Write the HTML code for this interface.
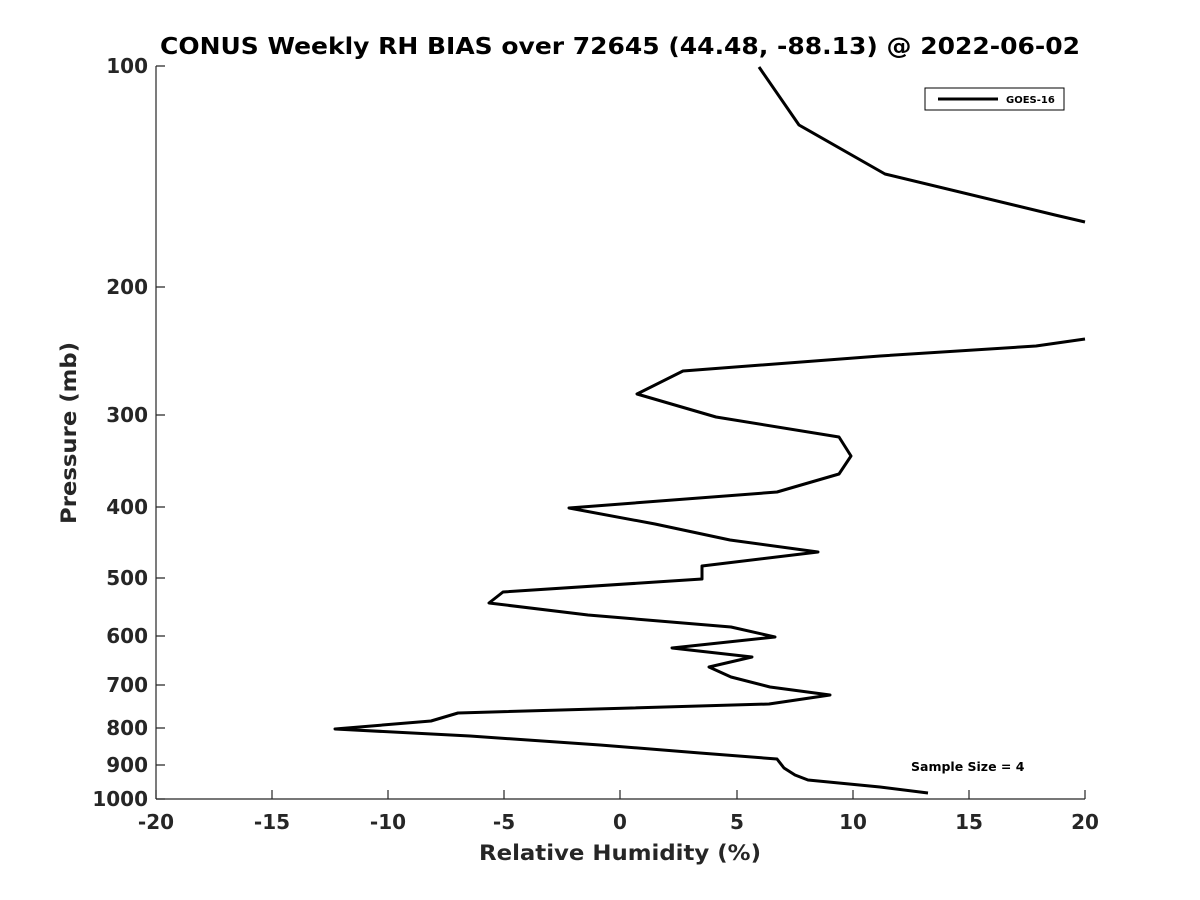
<!DOCTYPE html>
<html><head><meta charset="utf-8"><style>
html,body{margin:0;padding:0;background:#fff;}
svg{display:block;font-family:"DejaVu Sans","Liberation Sans",sans-serif;}
</style></head><body>
<svg width="1200" height="900" viewBox="0 0 1200 900" xmlns="http://www.w3.org/2000/svg">
<rect width="1200" height="900" fill="#fff"/>
<text x="620" y="54" text-anchor="middle" font-size="23" font-weight="bold" fill="#000" textLength="920" lengthAdjust="spacingAndGlyphs">CONUS Weekly RH BIAS over 72645 (44.48, -88.13) @ 2022-06-02</text>
<g stroke="#262626" stroke-width="1.2" fill="none">
<line x1="156" y1="66" x2="156" y2="799"/>
<line x1="156" y1="799" x2="1085" y2="799"/>
<path d="M156 66h9M156 287h9M156 415h9M156 507h9M156 578h9M156 636h9M156 685h9M156 728h9M156 765h9M156 799h9"/>
<path d="M156 799v-9M272 799v-9M388 799v-9M504 799v-9M620 799v-9M737 799v-9M853 799v-9M969 799v-9M1085 799v-9"/>
</g>
<g font-size="20" font-weight="bold" fill="#262626" text-anchor="end">
<text x="148" y="73">100</text><text x="148" y="294">200</text><text x="148" y="422">300</text>
<text x="148" y="514">400</text><text x="148" y="585">500</text><text x="148" y="643">600</text>
<text x="148" y="692">700</text><text x="148" y="735">800</text><text x="148" y="772">900</text>
<text x="148" y="806">1000</text>
</g>
<g font-size="20" font-weight="bold" fill="#262626" text-anchor="middle">
<text x="156" y="829">-20</text><text x="272" y="829">-15</text><text x="388" y="829">-10</text>
<text x="504" y="829">-5</text><text x="620" y="829">0</text><text x="737" y="829">5</text>
<text x="853" y="829">10</text><text x="969" y="829">15</text><text x="1085" y="829">20</text>
</g>
<text x="620" y="860" text-anchor="middle" font-size="21" font-weight="bold" fill="#262626" textLength="282" lengthAdjust="spacingAndGlyphs">Relative Humidity (%)</text>
<text transform="translate(76,433) rotate(-90)" text-anchor="middle" font-size="21" font-weight="bold" fill="#262626" textLength="182" lengthAdjust="spacingAndGlyphs">Pressure (mb)</text>
<g stroke="#000" stroke-width="3" fill="none" stroke-linejoin="round">
<polyline points="759,67 799,125 885,174 1055,215 1085,222"/>
<polyline points="1085,339 1036,346 880,356 683,371 637,394 716,417 839,437 851,456 839,474 777,492 569,508 655,524 730,540 818,552 702,566 702,579 503,592 489,603 588,615 731,627 775,637 672,648 752,657 709,667 731,677 770,687 830,695 769,704 458,713 431,721 335,729 470,736 600,745 700,753 777,759 784,768 795,775 808,780 880,787 928,793"/>
</g>
<rect x="925" y="88" width="139" height="22" fill="#fff" stroke="#000" stroke-width="1"/>
<line x1="938" y1="99" x2="998" y2="99" stroke="#000" stroke-width="3"/>
<text x="1006" y="103" font-size="10" font-weight="bold" fill="#000">GOES-16</text>
<text x="911" y="771" font-size="12.5" font-weight="bold" fill="#000">Sample Size = 4</text>
</svg>
</body></html>
